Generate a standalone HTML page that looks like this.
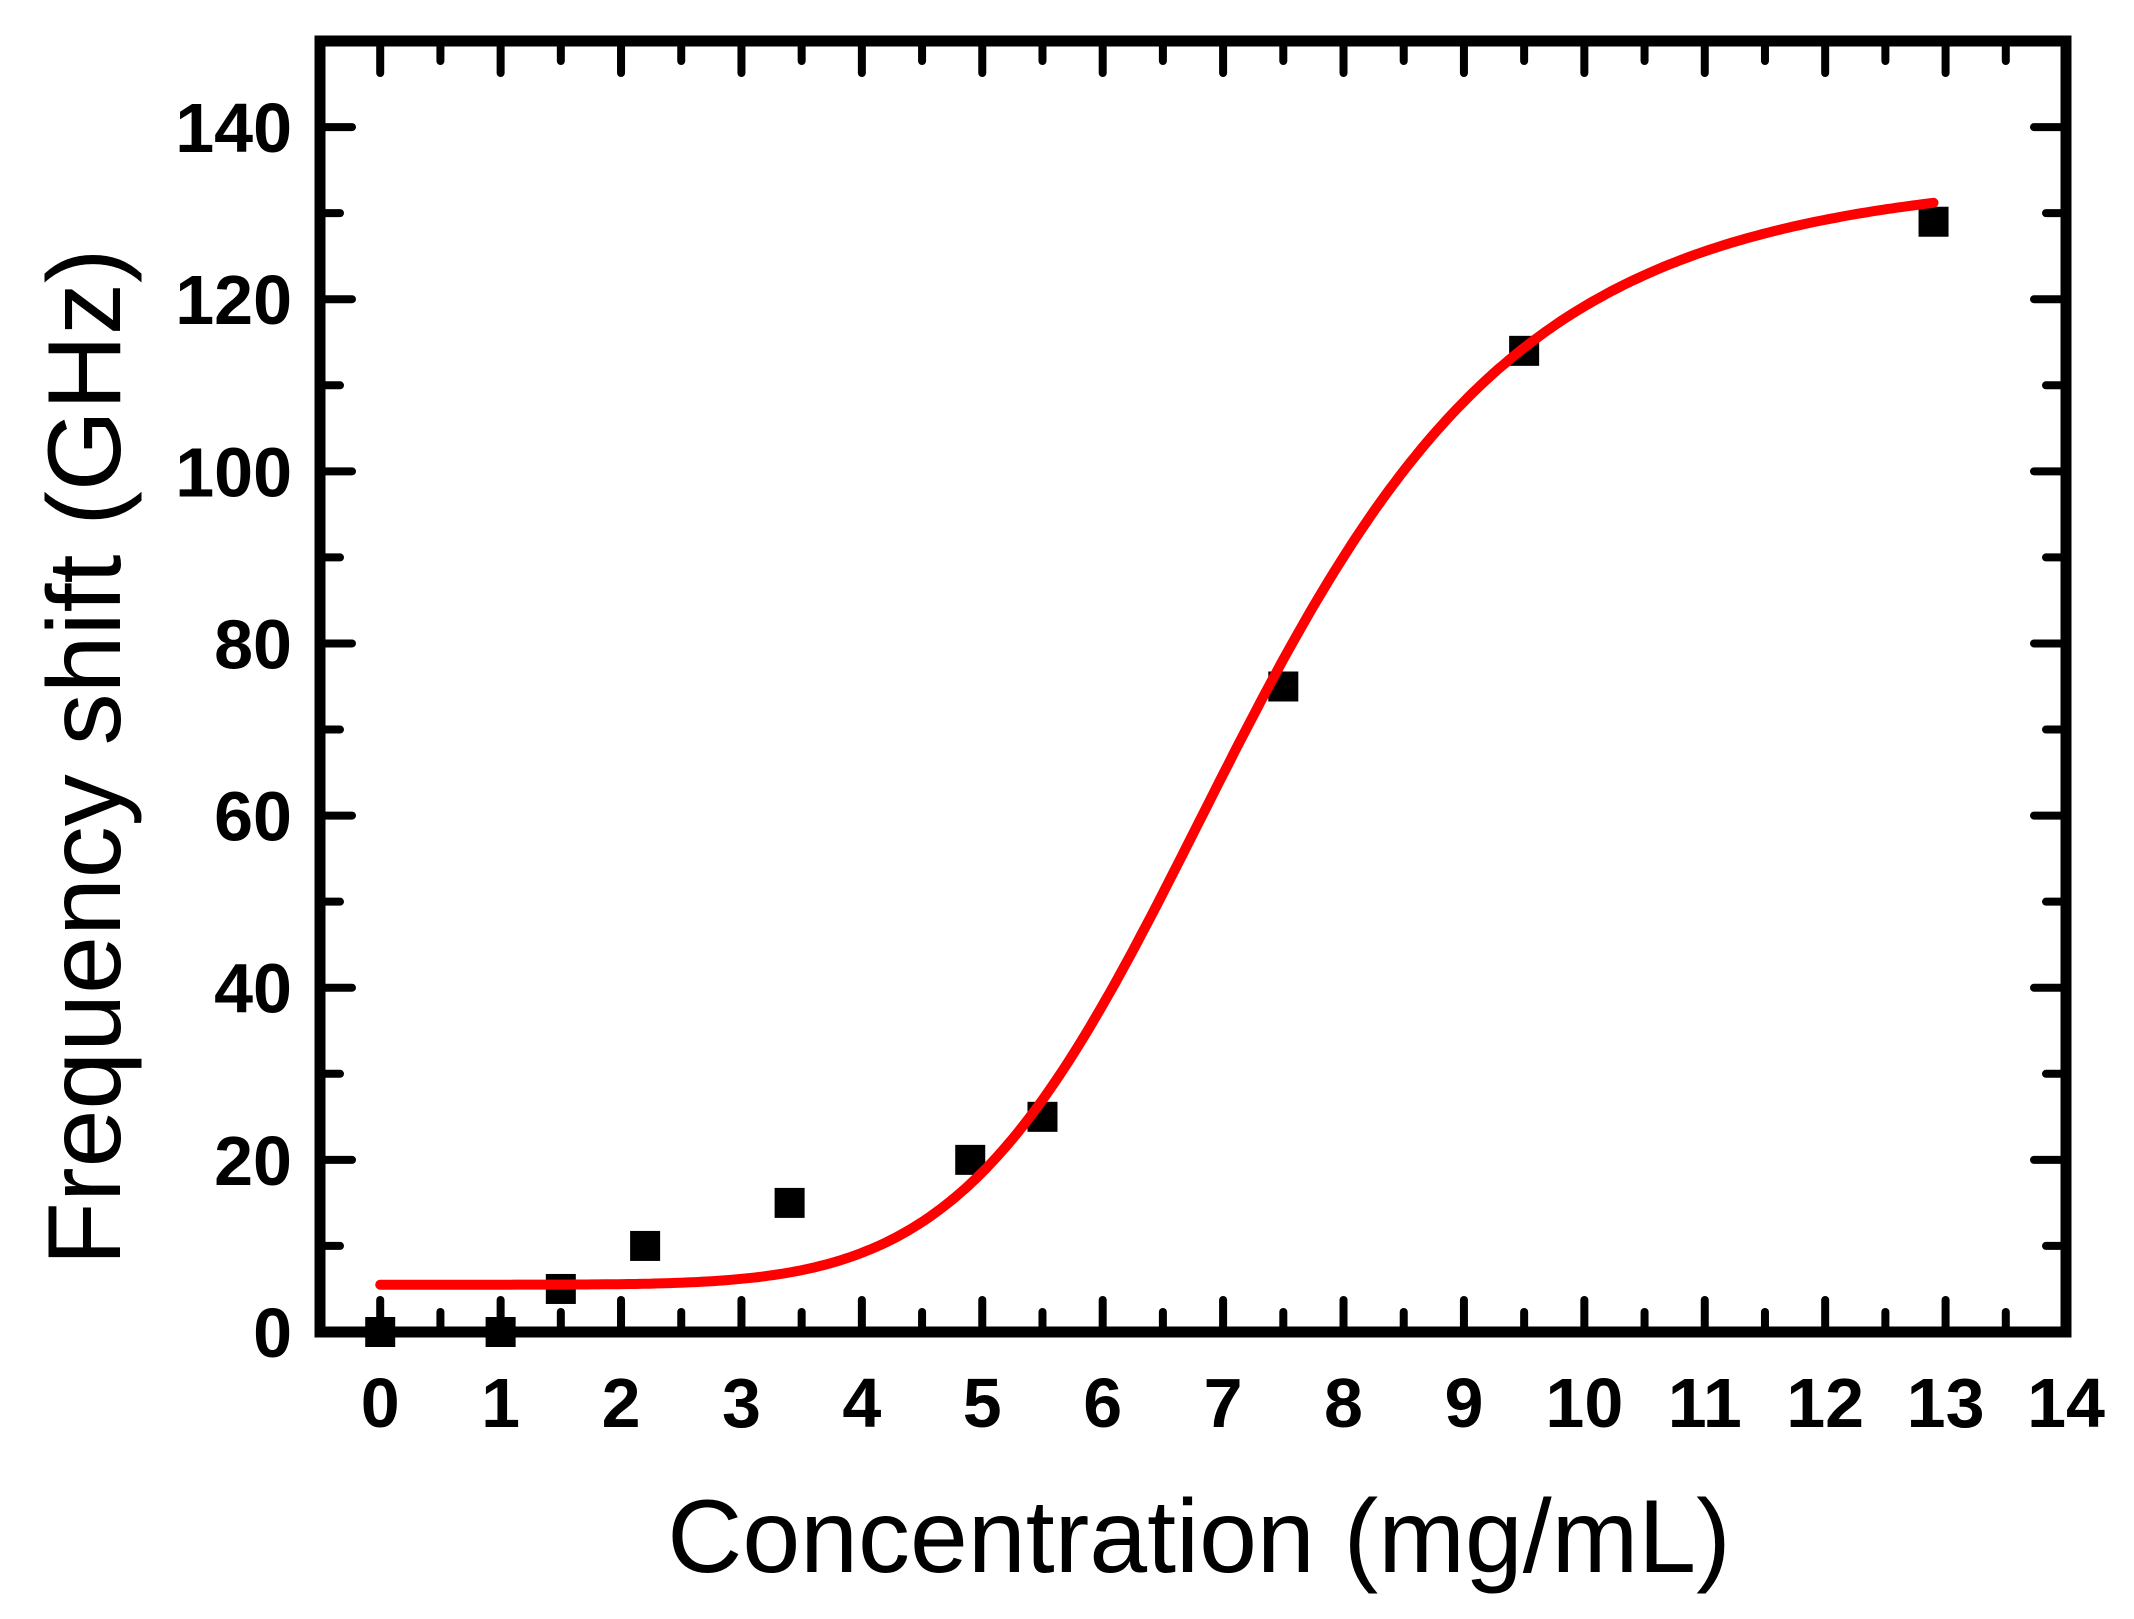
<!DOCTYPE html>
<html><head><meta charset="utf-8"><style>
html,body{margin:0;padding:0;background:#fff}
svg{display:block}
text{font-family:"Liberation Sans",Arial,sans-serif;fill:#000}
</style></head><body>
<svg id="chart" width="2134" height="1619" viewBox="0 0 2134 1619" xmlns="http://www.w3.org/2000/svg">
<g id="ticks"></g>
<g id="labels"></g>
<g id="series"></g>
<rect x="320" y="41" width="1746" height="1291" fill="none" stroke="#000" stroke-width="11"/>
<text x="1199" y="1572" font-size="104" text-anchor="middle">Concentration (mg/mL)</text>
<text transform="translate(120,757) rotate(-90)" font-size="104" text-anchor="middle">Frequency shift (GHz)</text>
</svg>
<script>
const xData = [0, 1, 1.5, 2.2, 3.4, 4.9, 5.5, 7.5, 9.5, 12.9];
const yData = [0, 0, 5, 10, 15, 20, 25, 75, 114, 129];
const fitParams = [5.5, 135, 7.2, 6]; // A1, A2, k, n (Hill)
const fitRange = [0, 12.9];
const xTicks = [0,1,2,3,4,5,6,7,8,9,10,11,12,13,14];
const yTicks = [0,20,40,60,80,100,120,140];

const L=320,R=2066,T=41,B=1332,XMIN=-0.5,XMAX=14,YMIN=0,YMAX=150;
const sx=v=>L+(v-XMIN)/(XMAX-XMIN)*(R-L);
const sy=v=>B-(v-YMIN)/(YMAX-YMIN)*(B-T);
const NS='http://www.w3.org/2000/svg';
function mk(tag,parent,attrs){const e=document.createElementNS(NS,tag);for(const k in attrs)e.setAttribute(k,attrs[k]);parent.appendChild(e);return e;}
const gT=document.getElementById('ticks'),gL=document.getElementById('labels'),gS=document.getElementById('series');

for(let v=0;v<=14;v+=0.5){
  const maj=Number.isInteger(v), len=maj?32:20, x=sx(v);
  let t=mk('line',gT,{x1:x,x2:x,y1:B,y2:B-len,stroke:'#000','stroke-width':8,'stroke-linecap':'round'});
  
  
  t=mk('line',gT,{x1:x,x2:x,y1:T,y2:T+len,stroke:'#000','stroke-width':8,'stroke-linecap':'round'});
  
  
}
for(let v=0;v<=150;v+=10){
  const maj=v%20===0, len=maj?32:20, y=sy(v);
  let t=mk('line',gT,{x1:L,x2:L+len,y1:y,y2:y,stroke:'#000','stroke-width':8,'stroke-linecap':'round'});
  
  
  t=mk('line',gT,{x1:R,x2:R-len,y1:y,y2:y,stroke:'#000','stroke-width':8,'stroke-linecap':'round'});
  
  
}
xTicks.forEach(v=>{
  const t=mk('text',gL,{x:sx(v),y:1427,'font-size':70,'font-weight':'bold','text-anchor':'middle'});
  t.textContent=v;
  
  
});
yTicks.forEach(v=>{
  const t=mk('text',gL,{x:292,y:sy(v)+25,'font-size':70,'font-weight':'bold','text-anchor':'end'});
  t.textContent=v;
  
  
});

const [A1,A2,K,N]=fitParams;
let d='';
for(let i=0;i<=300;i++){
  const x=fitRange[0]+(fitRange[1]-fitRange[0])*i/300;
  const r=Math.pow(x/K,N);
  const y=A1+(A2-A1)*r/(1+r);
  d+=(i?'L':'M')+sx(x).toFixed(1)+' '+sy(y).toFixed(1);
}
xData.forEach((x,i)=>{
  const s=mk('rect',gS,{x:sx(x)-15,y:sy(yData[i])-15,width:30,height:30,fill:'#000'});
  
  
});
const p=mk('path',gS,{d:d,fill:'none',stroke:'#ff0000','stroke-width':10,'stroke-linecap':'round'});


</script>
</body></html>
